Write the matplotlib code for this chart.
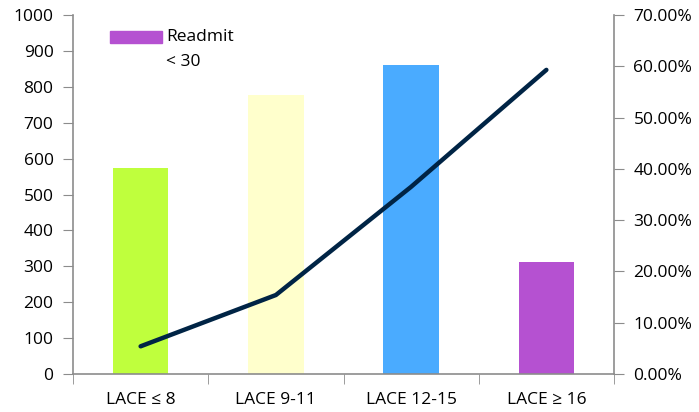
import matplotlib
matplotlib.use("Agg")
import matplotlib.pyplot as plt
from matplotlib.patches import Rectangle
from matplotlib.ticker import FuncFormatter, MultipleLocator

plt.rcParams['font.family'] = ['Open Sans', 'DejaVu Sans']
plt.rcParams['font.size'] = 12.5

categories = ['LACE ≤ 8', 'LACE 9-11', 'LACE 12-15', 'LACE ≥ 16']
patients = [575, 778, 860, 313]
readmit_rate = [0.054, 0.154, 0.365, 0.593]
bar_colors = ['#bfff3d', '#ffffcc', '#4aabff', '#b551d1']

fig = plt.figure(figsize=(6.99, 4.12), dpi=100)
ax = fig.add_axes([73/699, 38/412, 541/699, 359/412])
ax2 = ax.twinx()

x = list(range(len(categories)))
ax.bar(x, patients, width=0.41, color=bar_colors, zorder=2)
ax2.plot(x, readmit_rate, color='#002445', lw=3.2, solid_capstyle='round',
         solid_joinstyle='round', zorder=3)

ax.set_xlim(-0.5, 3.5)
ax.set_ylim(0, 1000)
ax.yaxis.set_major_locator(MultipleLocator(100))
ax2.set_ylim(0, 0.7)
ax2.yaxis.set_major_locator(MultipleLocator(0.1))
ax2.yaxis.set_major_formatter(FuncFormatter(lambda v, p: f'{v*100:.2f}%'))

# category labels in the middle, ticks between them
ax.set_xticks(x)
ax.set_xticklabels(categories)
ax.tick_params(axis='x', which='major', length=0, pad=13)
ax.set_xticks([-0.5, 0.5, 1.5, 2.5, 3.5], minor=True)
ax.tick_params(axis='x', which='minor', length=7, direction='out', color='#8c8c8c')

ax.tick_params(axis='y', length=7, direction='out', color='#8c8c8c', pad=7)
ax2.tick_params(axis='y', length=7, direction='out', color='#8c8c8c', pad=7)

for a in (ax, ax2):
    a.spines['top'].set_visible(False)
    for s in ('left', 'right', 'bottom'):
        a.spines[s].set_color('#8c8c8c')
        a.spines[s].set_linewidth(1.2)
ax.spines['right'].set_visible(False)
ax2.spines['left'].set_visible(False)
ax2.spines['bottom'].set_visible(False)

# legend swatch for the readmission group
ax.add_patch(Rectangle((37/541, (359 - 28) / 359), 52/541, 12/359,
                       transform=ax.transAxes, color=bar_colors[3],
                       clip_on=False, zorder=4))
ax.text(93/541, (359 - 22) / 359, 'Readmit', transform=ax.transAxes,
        va='center', ha='left')
ax.text(93/541, (359 - 47) / 359, '< 30', transform=ax.transAxes,
        va='center', ha='left')

fig.savefig('out.png', dpi=100)
